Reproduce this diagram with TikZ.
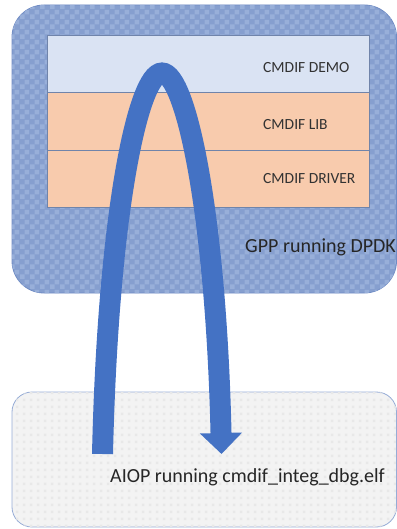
\documentclass[tikz,border=0pt]{standalone}
\usepackage{fontspec}
\setmainfont{Carlito}
\usetikzlibrary{arrows.meta,patterns.meta}
\definecolor{gppbase}{RGB}{134,159,207}
\definecolor{gpplight}{RGB}{152,175,217}
\definecolor{gppborder}{RGB}{112,140,196}
\definecolor{aiopbase}{RGB}{243,243,243}
\definecolor{aiopdot}{RGB}{232,232,232}
\definecolor{aiopborder}{RGB}{150,172,214}
\definecolor{demofill}{RGB}{218,227,243}
\definecolor{libfill}{RGB}{248,203,173}
\definecolor{layerborder}{RGB}{112,132,170}
\definecolor{arrowblue}{RGB}{68,114,196}
\definecolor{txt}{RGB}{50,50,50}
\tikzdeclarepattern{name=checker, type=uncolored,
  bounding box={(0pt,0pt) and (10pt,10pt)}, tile size={(10pt,10pt)},
  code={\fill (0pt,0pt) rectangle (5pt,5pt); \fill (5pt,5pt) rectangle (10pt,10pt);}}
\tikzdeclarepattern{name=dotgrid, type=uncolored,
  bounding box={(0pt,0pt) and (7pt,7pt)}, tile size={(7pt,7pt)},
  code={\fill (2pt,2pt) rectangle (5pt,5pt);}}
\tikzset{
  hostbox/.style={draw, line width=0.8pt, rounded corners=#1, inner sep=0pt},
  layerbox/.style={draw=layerborder, line width=0.8pt, inner sep=0pt, anchor=north west,
    minimum width=322pt},
  layertext/.style={anchor=west, font=\fontsize{15.5}{18}\selectfont, text=txt, inner sep=0pt},
  hosttext/.style={anchor=base west, font=\fontsize{20}{24}\selectfont, text=black!85, inner sep=0pt},
  flow/.style={draw=arrowblue, line width=21pt,
    -{Triangle[width=41pt,length=21pt]}}
}
\begin{document}
\begin{tikzpicture}[x=1pt,y=-1pt]
\useasboundingbox (0,0) rectangle (396,529);
% GPP host
\path[hostbox=32pt, draw=gppborder, fill=gppbase,
  postaction={pattern=checker, pattern color=gpplight}]
  (12,5) rectangle (396.5,293);
\node[layerbox, fill=demofill, minimum height=57pt] (demo) at (47,35) {};
\node[layerbox, fill=libfill, minimum height=58pt] (lib) at (47,92) {};
\node[layerbox, fill=libfill, minimum height=57pt] (driver) at (47,150) {};
\node[layertext] (tdemo) at (263,67.5) {CMDIF DEMO};
\node[layertext] (tlib) at (263,125) {CMDIF LIB};
\node[layertext] (tdriver) at (263,178.5) {CMDIF DRIVER};
\node[hosttext] (gpp) at (245,252) {GPP running DPDK};
% AIOP host
\path[hostbox=20pt, draw=aiopborder, fill=aiopbase,
  postaction={pattern=dotgrid, pattern color=aiopdot}]
  (12,392) rectangle (396.5,527);
\node[hosttext] (aiop) at (110,482) {AIOP running cmdif\_integ\_dbg.elf};
% flow arrow
\coordinate (up) at (102.5,454);
\coordinate (apex) at (162,73);
\coordinate (down) at (221.5,454);
\draw[flow] (up) .. controls (108,215) and (138,73) .. (apex)
  .. controls (186,73) and (216,215) .. (down);
\end{tikzpicture}
\end{document}
